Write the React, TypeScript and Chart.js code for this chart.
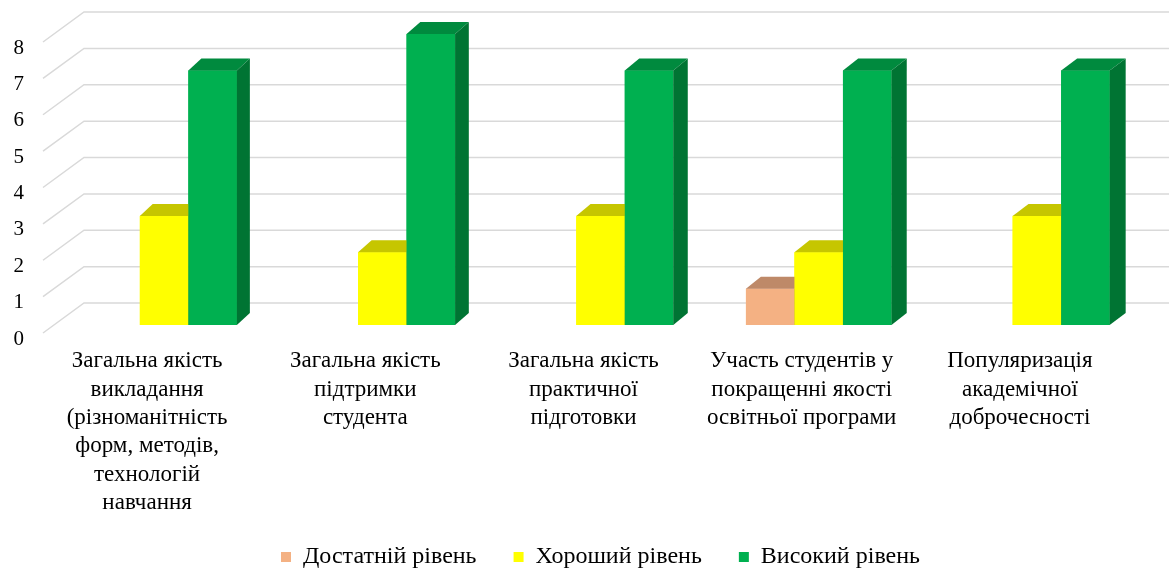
import React, { useEffect, useRef } from "react";
import { Chart, registerables } from "chart.js";

Chart.register(...registerables);

const categories: string[][] = [
  ["Загальна якість", "викладання", "(різноманітність", "форм, методів,", "технологій", "навчання"],
  ["Загальна якість", "підтримки", "студента"],
  ["Загальна якість", "практичної", "підготовки"],
  ["Участь студентів у", "покращенні якості", "освітньої програми"],
  ["Популяризація", "академічної", "доброчесності"],
];
const seriesNames = ["Достатній рівень", "Хороший рівень", "Високий рівень"];
const sufficient = [0, 0, 0, 1, 0];
const good = [3, 2, 3, 2, 3];
const high = [7, 8, 7, 7, 7];
const yTicks = [0, 1, 2, 3, 4, 5, 6, 7, 8];

const FONT = "'Liberation Serif', 'Times New Roman', serif";
const faceColors = [
  { front: "#F4B183", top: "#BE8968", side: "#A8765A" },
  { front: "#FFFF00", top: "#C6C600", side: "#B0B000" },
  { front: "#00B050", top: "#008A3E", side: "#007433" },
];

const W = 1169;
const H = 573;

const gridPlugin = {
  id: "grid3d",
  beforeDatasetsDraw(chart: any) {
    const ctx = chart.ctx;
    const ys = chart.scales.y;
    const xs = chart.scales.x;
    ctx.save();
    ctx.strokeStyle = "#D9D9D9";
    ctx.lineWidth = 1.5;
    yTicks.forEach((v) => {
      const py = ys.getPixelForValue(v);
      const fx = xs.left - 12;
      const fy = py + 8;
      const bx = xs.left + 29;
      const by = py - 22;
      ctx.beginPath();
      ctx.moveTo(fx, fy);
      ctx.lineTo(bx, by);
      ctx.lineTo(chart.width, by);
      ctx.stroke();
    });
    ctx.restore();
  },
};

const barsPlugin = {
  id: "bars3d",
  afterDatasetsDraw(chart: any) {
    const ctx = chart.ctx;
    const n = categories.length;
    const nd = chart.data.datasets.length;
    ctx.save();
    for (let i = 0; i < n; i++) {
      for (let d = 0; d < nd; d++) {
        const v = chart.data.datasets[d].data[i];
        if (!v) continue;
        const el = chart.getDatasetMeta(d).data[i];
        const { x, y, base, width } = el.getProps(["x", "y", "base", "width"], true);
        const l = x - width / 2;
        const r = x + width / 2;
        const dx = 13 + 3 * (r - 237) / (1109 - 237);
        const dy = -12;
        const c = faceColors[d];
        ctx.fillStyle = c.front;
        ctx.fillRect(l, y, r - l, base - y);
        ctx.fillStyle = c.top;
        ctx.beginPath();
        ctx.moveTo(l, y);
        ctx.lineTo(r, y);
        ctx.lineTo(r + dx, y + dy);
        ctx.lineTo(l + dx, y + dy);
        ctx.closePath();
        ctx.fill();
        ctx.fillStyle = c.side;
        ctx.beginPath();
        ctx.moveTo(r, y);
        ctx.lineTo(r + dx, y + dy);
        ctx.lineTo(r + dx, base + dy);
        ctx.lineTo(r, base);
        ctx.closePath();
        ctx.fill();
      }
    }
    ctx.restore();
  },
};

export default function App() {
  const ref = useRef<HTMLCanvasElement | null>(null);
  useEffect(() => {
    document.body.style.margin = "0";
    if (!ref.current) return;
    const chart = new Chart(ref.current, {
      type: "bar",
      data: {
        labels: categories,
        datasets: [sufficient, good, high].map((arr, k) => ({
          label: seriesNames[k],
          data: arr,
          backgroundColor: faceColors[k].front,
          borderWidth: 0,
          barPercentage: 1,
          categoryPercentage: 0.667,
        })),
      },
      options: {
        responsive: false,
        animation: false,
        layout: { padding: { top: 34, right: 23, left: 0, bottom: -6 } },
        plugins: {
          tooltip: { enabled: false },
          legend: {
            position: "bottom",
            fullSize: false,
            labels: {
              boxWidth: 10,
              boxHeight: 10,
              padding: 37,
              color: "#000",
              font: { family: FONT, size: 24 },
            },
          },
        },
        scales: {
          x: {
            grid: { display: false, drawTicks: false },
            border: { display: false },
            ticks: {
              color: "#000",
              font: { family: FONT, size: 23, lineHeight: 1.235 },
              padding: 22,
              labelOffset: -17,
              maxRotation: 0,
              autoSkip: false,
            },
            afterFit(scale: any) {
              scale.height = 183;
              scale._computeLabelArea = () => undefined;
            },
          },
          y: {
            min: 0,
            max: 8,
            grid: { display: false, drawTicks: false },
            border: { display: false },
            ticks: {
              stepSize: 1,
              color: "#000",
              font: { family: FONT, size: 21 },
              padding: 31,
              labelOffset: 14,
            },
            afterFit(scale: any) {
              scale.width = 55;
              scale.paddingTop = 0;
              scale.paddingBottom = 0;
            },
          },
        },
      },
      plugins: [gridPlugin, barsPlugin],
    });
    return () => chart.destroy();
  }, []);
  return (
    <div style={{ width: W, height: H, background: "#fff" }}>
      <canvas ref={ref} width={W} height={H} />
    </div>
  );
}
